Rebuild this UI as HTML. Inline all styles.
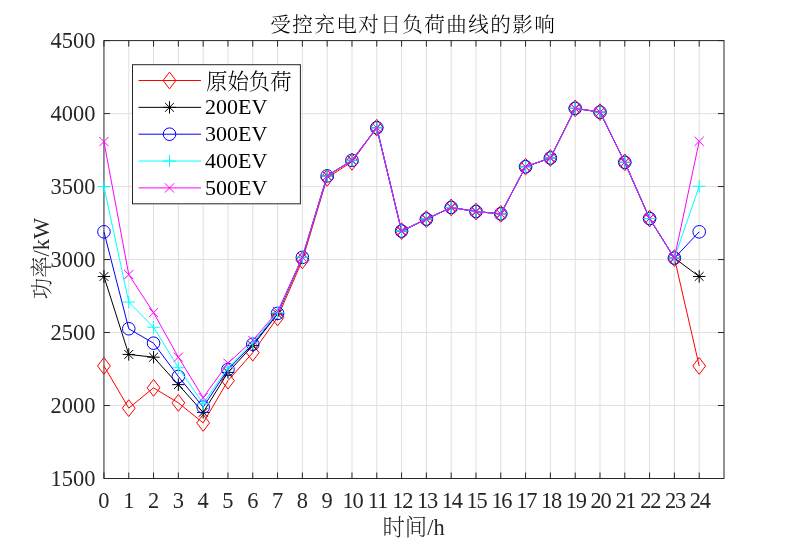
<!DOCTYPE html>
<html lang="zh"><head><meta charset="utf-8"><title>受控充电对日负荷曲线的影响</title>
<style>html,body{margin:0;padding:0;background:#fff}svg{display:block}text{filter:grayscale(1)}</style></head>
<body>
<svg width="800" height="541" viewBox="0 0 800 541">
<rect x="0" y="0" width="800" height="541" fill="#fff"/>
<path d="M128.75 40.6V478.5M153.55 40.6V478.5M178.36 40.6V478.5M203.16 40.6V478.5M227.96 40.6V478.5M252.76 40.6V478.5M277.56 40.6V478.5M302.37 40.6V478.5M327.17 40.6V478.5M351.97 40.6V478.5M376.77 40.6V478.5M401.57 40.6V478.5M426.38 40.6V478.5M451.18 40.6V478.5M475.98 40.6V478.5M500.78 40.6V478.5M525.58 40.6V478.5M550.39 40.6V478.5M575.19 40.6V478.5M599.99 40.6V478.5M624.79 40.6V478.5M649.59 40.6V478.5M674.4 40.6V478.5M699.2 40.6V478.5M103.95 405.52H724.0M103.95 332.53H724.0M103.95 259.55H724.0M103.95 186.57H724.0M103.95 113.58H724.0" stroke="#e0e0e0" stroke-width="1" fill="none"/>
<path d="M103.95 478.5v-6.0M103.95 40.6v6.0M128.75 478.5v-6.0M128.75 40.6v6.0M153.55 478.5v-6.0M153.55 40.6v6.0M178.36 478.5v-6.0M178.36 40.6v6.0M203.16 478.5v-6.0M203.16 40.6v6.0M227.96 478.5v-6.0M227.96 40.6v6.0M252.76 478.5v-6.0M252.76 40.6v6.0M277.56 478.5v-6.0M277.56 40.6v6.0M302.37 478.5v-6.0M302.37 40.6v6.0M327.17 478.5v-6.0M327.17 40.6v6.0M351.97 478.5v-6.0M351.97 40.6v6.0M376.77 478.5v-6.0M376.77 40.6v6.0M401.57 478.5v-6.0M401.57 40.6v6.0M426.38 478.5v-6.0M426.38 40.6v6.0M451.18 478.5v-6.0M451.18 40.6v6.0M475.98 478.5v-6.0M475.98 40.6v6.0M500.78 478.5v-6.0M500.78 40.6v6.0M525.58 478.5v-6.0M525.58 40.6v6.0M550.39 478.5v-6.0M550.39 40.6v6.0M575.19 478.5v-6.0M575.19 40.6v6.0M599.99 478.5v-6.0M599.99 40.6v6.0M624.79 478.5v-6.0M624.79 40.6v6.0M649.59 478.5v-6.0M649.59 40.6v6.0M674.4 478.5v-6.0M674.4 40.6v6.0M699.2 478.5v-6.0M699.2 40.6v6.0M103.95 478.5h6.0M724.0 478.5h-6.0M103.95 405.52h6.0M724.0 405.52h-6.0M103.95 332.53h6.0M724.0 332.53h-6.0M103.95 259.55h6.0M724.0 259.55h-6.0M103.95 186.57h6.0M724.0 186.57h-6.0M103.95 113.58h6.0M724.0 113.58h-6.0M103.95 40.6h6.0M724.0 40.6h-6.0" stroke="#262626" stroke-width="1" fill="none"/>
<rect x="103.95" y="40.6" width="620.05" height="437.9" fill="none" stroke="#262626" stroke-width="1"/>
<polyline fill="none" stroke="#ff0000" stroke-width="1" points="103.95,365.96 128.75,408.14 153.55,387.85 178.36,402.89 203.16,422.89 227.96,380.70 252.76,352.68 277.56,317.50 302.37,260.28 327.17,177.81 351.97,161.75 376.77,127.74 401.57,231.09 426.38,219.12 451.18,207.44 475.98,211.53 500.78,213.86 525.58,166.72 550.39,157.96 575.19,108.33 599.99,112.12 624.79,162.34 649.59,218.53 674.40,258.09 699.20,365.96"/>
<path d="M103.95 357.56L110.35 365.96L103.95 374.36L97.55 365.96Z" fill="none" stroke="#ff0000" stroke-width="1"/>
<path d="M128.75 399.74L135.15 408.14L128.75 416.54L122.35 408.14Z" fill="none" stroke="#ff0000" stroke-width="1"/>
<path d="M153.55 379.45L159.95 387.85L153.55 396.25L147.15 387.85Z" fill="none" stroke="#ff0000" stroke-width="1"/>
<path d="M178.36 394.49L184.76 402.89L178.36 411.29L171.96 402.89Z" fill="none" stroke="#ff0000" stroke-width="1"/>
<path d="M203.16 414.49L209.56 422.89L203.16 431.29L196.76 422.89Z" fill="none" stroke="#ff0000" stroke-width="1"/>
<path d="M227.96 372.30L234.36 380.70L227.96 389.10L221.56 380.70Z" fill="none" stroke="#ff0000" stroke-width="1"/>
<path d="M252.76 344.28L259.16 352.68L252.76 361.08L246.36 352.68Z" fill="none" stroke="#ff0000" stroke-width="1"/>
<path d="M277.56 309.10L283.96 317.50L277.56 325.90L271.16 317.50Z" fill="none" stroke="#ff0000" stroke-width="1"/>
<path d="M302.37 251.88L308.77 260.28L302.37 268.68L295.97 260.28Z" fill="none" stroke="#ff0000" stroke-width="1"/>
<path d="M327.17 169.41L333.57 177.81L327.17 186.21L320.77 177.81Z" fill="none" stroke="#ff0000" stroke-width="1"/>
<path d="M351.97 153.35L358.37 161.75L351.97 170.15L345.57 161.75Z" fill="none" stroke="#ff0000" stroke-width="1"/>
<path d="M376.77 119.34L383.17 127.74L376.77 136.14L370.37 127.74Z" fill="none" stroke="#ff0000" stroke-width="1"/>
<path d="M401.57 222.69L407.97 231.09L401.57 239.49L395.17 231.09Z" fill="none" stroke="#ff0000" stroke-width="1"/>
<path d="M426.38 210.72L432.78 219.12L426.38 227.52L419.98 219.12Z" fill="none" stroke="#ff0000" stroke-width="1"/>
<path d="M451.18 199.04L457.58 207.44L451.18 215.84L444.78 207.44Z" fill="none" stroke="#ff0000" stroke-width="1"/>
<path d="M475.98 203.13L482.38 211.53L475.98 219.93L469.58 211.53Z" fill="none" stroke="#ff0000" stroke-width="1"/>
<path d="M500.78 205.46L507.18 213.86L500.78 222.26L494.38 213.86Z" fill="none" stroke="#ff0000" stroke-width="1"/>
<path d="M525.58 158.32L531.98 166.72L525.58 175.12L519.18 166.72Z" fill="none" stroke="#ff0000" stroke-width="1"/>
<path d="M550.39 149.56L556.79 157.96L550.39 166.36L543.99 157.96Z" fill="none" stroke="#ff0000" stroke-width="1"/>
<path d="M575.19 99.93L581.59 108.33L575.19 116.73L568.79 108.33Z" fill="none" stroke="#ff0000" stroke-width="1"/>
<path d="M599.99 103.72L606.39 112.12L599.99 120.52L593.59 112.12Z" fill="none" stroke="#ff0000" stroke-width="1"/>
<path d="M624.79 153.94L631.19 162.34L624.79 170.74L618.39 162.34Z" fill="none" stroke="#ff0000" stroke-width="1"/>
<path d="M649.59 210.13L655.99 218.53L649.59 226.93L643.19 218.53Z" fill="none" stroke="#ff0000" stroke-width="1"/>
<path d="M674.40 249.69L680.80 258.09L674.40 266.49L668.00 258.09Z" fill="none" stroke="#ff0000" stroke-width="1"/>
<path d="M699.20 357.56L705.60 365.96L699.20 374.36L692.80 365.96Z" fill="none" stroke="#ff0000" stroke-width="1"/>
<polyline fill="none" stroke="#000000" stroke-width="1" points="103.95,276.48 128.75,354.43 153.55,357.20 178.36,384.64 203.16,412.38 227.96,372.38 252.76,345.67 277.56,314.00 302.37,257.36 327.17,175.91 351.97,160.29 376.77,127.74 401.57,231.09 426.38,219.12 451.18,207.44 475.98,211.53 500.78,213.86 525.58,166.72 550.39,157.96 575.19,108.33 599.99,112.12 624.79,162.34 649.59,218.53 674.40,258.09 699.20,276.48"/>
<path d="M97.75 276.48H110.15M103.95 270.28V282.68M99.57 272.10L108.33 280.87M99.57 280.87L108.33 272.10" fill="none" stroke="#000000" stroke-width="1"/>
<path d="M122.55 354.43H134.95M128.75 348.23V360.63M124.37 350.04L133.14 358.81M124.37 358.81L133.14 350.04" fill="none" stroke="#000000" stroke-width="1"/>
<path d="M147.35 357.20H159.75M153.55 351.00V363.40M149.17 352.82L157.94 361.59M149.17 361.59L157.94 352.82" fill="none" stroke="#000000" stroke-width="1"/>
<path d="M172.16 384.64H184.56M178.36 378.44V390.84M173.97 380.26L182.74 389.03M173.97 389.03L182.74 380.26" fill="none" stroke="#000000" stroke-width="1"/>
<path d="M196.96 412.38H209.36M203.16 406.18V418.58M198.77 407.99L207.54 416.76M198.77 416.76L207.54 407.99" fill="none" stroke="#000000" stroke-width="1"/>
<path d="M221.76 372.38H234.16M227.96 366.18V378.58M223.58 368.00L232.34 376.77M223.58 376.77L232.34 368.00" fill="none" stroke="#000000" stroke-width="1"/>
<path d="M246.56 345.67H258.96M252.76 339.47V351.87M248.38 341.29L257.15 350.05M248.38 350.05L257.15 341.29" fill="none" stroke="#000000" stroke-width="1"/>
<path d="M271.36 314.00H283.76M277.56 307.80V320.20M273.18 309.61L281.95 318.38M273.18 318.38L281.95 309.61" fill="none" stroke="#000000" stroke-width="1"/>
<path d="M296.17 257.36H308.57M302.37 251.16V263.56M297.98 252.98L306.75 261.74M297.98 261.74L306.75 252.98" fill="none" stroke="#000000" stroke-width="1"/>
<path d="M320.97 175.91H333.37M327.17 169.71V182.11M322.78 171.53L331.55 180.30M322.78 180.30L331.55 171.53" fill="none" stroke="#000000" stroke-width="1"/>
<path d="M345.77 160.29H358.17M351.97 154.09V166.49M347.59 155.91L356.35 164.68M347.59 164.68L356.35 155.91" fill="none" stroke="#000000" stroke-width="1"/>
<path d="M370.57 127.74H382.97M376.77 121.54V133.94M372.39 123.36L381.16 132.13M372.39 132.13L381.16 123.36" fill="none" stroke="#000000" stroke-width="1"/>
<path d="M395.37 231.09H407.77M401.57 224.89V237.29M397.19 226.70L405.96 235.47M397.19 235.47L405.96 226.70" fill="none" stroke="#000000" stroke-width="1"/>
<path d="M420.18 219.12H432.58M426.38 212.92V225.32M421.99 214.73L430.76 223.50M421.99 223.50L430.76 214.73" fill="none" stroke="#000000" stroke-width="1"/>
<path d="M444.98 207.44H457.38M451.18 201.24V213.64M446.79 203.06L455.56 211.82M446.79 211.82L455.56 203.06" fill="none" stroke="#000000" stroke-width="1"/>
<path d="M469.78 211.53H482.18M475.98 205.33V217.73M471.60 207.14L480.36 215.91M471.60 215.91L480.36 207.14" fill="none" stroke="#000000" stroke-width="1"/>
<path d="M494.58 213.86H506.98M500.78 207.66V220.06M496.40 209.48L505.17 218.25M496.40 218.25L505.17 209.48" fill="none" stroke="#000000" stroke-width="1"/>
<path d="M519.38 166.72H531.78M525.58 160.52V172.92M521.20 162.33L529.97 171.10M521.20 171.10L529.97 162.33" fill="none" stroke="#000000" stroke-width="1"/>
<path d="M544.19 157.96H556.59M550.39 151.76V164.16M546.00 153.57L554.77 162.34M546.00 162.34L554.77 153.57" fill="none" stroke="#000000" stroke-width="1"/>
<path d="M568.99 108.33H581.39M575.19 102.13V114.53M570.80 103.94L579.57 112.71M570.80 112.71L579.57 103.94" fill="none" stroke="#000000" stroke-width="1"/>
<path d="M593.79 112.12H606.19M599.99 105.92V118.32M595.61 107.74L604.37 116.51M595.61 116.51L604.37 107.74" fill="none" stroke="#000000" stroke-width="1"/>
<path d="M618.59 162.34H630.99M624.79 156.14V168.54M620.41 157.95L629.18 166.72M620.41 166.72L629.18 157.95" fill="none" stroke="#000000" stroke-width="1"/>
<path d="M643.39 218.53H655.79M649.59 212.33V224.73M645.21 214.15L653.98 222.92M645.21 222.92L653.98 214.15" fill="none" stroke="#000000" stroke-width="1"/>
<path d="M668.20 258.09H680.60M674.40 251.89V264.29M670.01 253.71L678.78 262.47M670.01 262.47L678.78 253.71" fill="none" stroke="#000000" stroke-width="1"/>
<path d="M693.00 276.48H705.40M699.20 270.28V282.68M694.81 272.10L703.58 280.87M694.81 280.87L703.58 272.10" fill="none" stroke="#000000" stroke-width="1"/>
<polyline fill="none" stroke="#0000ff" stroke-width="1" points="103.95,231.82 128.75,328.74 153.55,343.19 178.36,376.47 203.16,407.12 227.96,369.46 252.76,344.21 277.56,313.41 302.37,257.36 327.17,175.91 351.97,160.29 376.77,127.74 401.57,231.09 426.38,219.12 451.18,207.44 475.98,211.53 500.78,213.86 525.58,166.72 550.39,157.96 575.19,108.33 599.99,112.12 624.79,162.34 649.59,218.53 674.40,258.09 699.20,231.82"/>
<circle cx="103.95" cy="231.82" r="6.3" fill="none" stroke="#0000ff" stroke-width="1"/>
<circle cx="128.75" cy="328.74" r="6.3" fill="none" stroke="#0000ff" stroke-width="1"/>
<circle cx="153.55" cy="343.19" r="6.3" fill="none" stroke="#0000ff" stroke-width="1"/>
<circle cx="178.36" cy="376.47" r="6.3" fill="none" stroke="#0000ff" stroke-width="1"/>
<circle cx="203.16" cy="407.12" r="6.3" fill="none" stroke="#0000ff" stroke-width="1"/>
<circle cx="227.96" cy="369.46" r="6.3" fill="none" stroke="#0000ff" stroke-width="1"/>
<circle cx="252.76" cy="344.21" r="6.3" fill="none" stroke="#0000ff" stroke-width="1"/>
<circle cx="277.56" cy="313.41" r="6.3" fill="none" stroke="#0000ff" stroke-width="1"/>
<circle cx="302.37" cy="257.36" r="6.3" fill="none" stroke="#0000ff" stroke-width="1"/>
<circle cx="327.17" cy="175.91" r="6.3" fill="none" stroke="#0000ff" stroke-width="1"/>
<circle cx="351.97" cy="160.29" r="6.3" fill="none" stroke="#0000ff" stroke-width="1"/>
<circle cx="376.77" cy="127.74" r="6.3" fill="none" stroke="#0000ff" stroke-width="1"/>
<circle cx="401.57" cy="231.09" r="6.3" fill="none" stroke="#0000ff" stroke-width="1"/>
<circle cx="426.38" cy="219.12" r="6.3" fill="none" stroke="#0000ff" stroke-width="1"/>
<circle cx="451.18" cy="207.44" r="6.3" fill="none" stroke="#0000ff" stroke-width="1"/>
<circle cx="475.98" cy="211.53" r="6.3" fill="none" stroke="#0000ff" stroke-width="1"/>
<circle cx="500.78" cy="213.86" r="6.3" fill="none" stroke="#0000ff" stroke-width="1"/>
<circle cx="525.58" cy="166.72" r="6.3" fill="none" stroke="#0000ff" stroke-width="1"/>
<circle cx="550.39" cy="157.96" r="6.3" fill="none" stroke="#0000ff" stroke-width="1"/>
<circle cx="575.19" cy="108.33" r="6.3" fill="none" stroke="#0000ff" stroke-width="1"/>
<circle cx="599.99" cy="112.12" r="6.3" fill="none" stroke="#0000ff" stroke-width="1"/>
<circle cx="624.79" cy="162.34" r="6.3" fill="none" stroke="#0000ff" stroke-width="1"/>
<circle cx="649.59" cy="218.53" r="6.3" fill="none" stroke="#0000ff" stroke-width="1"/>
<circle cx="674.40" cy="258.09" r="6.3" fill="none" stroke="#0000ff" stroke-width="1"/>
<circle cx="699.20" cy="231.82" r="6.3" fill="none" stroke="#0000ff" stroke-width="1"/>
<polyline fill="none" stroke="#00ffff" stroke-width="1" points="103.95,186.57 128.75,302.03 153.55,327.28 178.36,367.71 203.16,403.62 227.96,367.71 252.76,342.75 277.56,312.68 302.37,257.36 327.17,175.91 351.97,160.29 376.77,127.74 401.57,231.09 426.38,219.12 451.18,207.44 475.98,211.53 500.78,213.86 525.58,166.72 550.39,157.96 575.19,108.33 599.99,112.12 624.79,162.34 649.59,218.53 674.40,258.09 699.20,186.27"/>
<path d="M97.75 186.57H110.15M103.95 180.37V192.77" fill="none" stroke="#00ffff" stroke-width="1"/>
<path d="M122.55 302.03H134.95M128.75 295.83V308.23" fill="none" stroke="#00ffff" stroke-width="1"/>
<path d="M147.35 327.28H159.75M153.55 321.08V333.48" fill="none" stroke="#00ffff" stroke-width="1"/>
<path d="M172.16 367.71H184.56M178.36 361.51V373.91" fill="none" stroke="#00ffff" stroke-width="1"/>
<path d="M196.96 403.62H209.36M203.16 397.42V409.82" fill="none" stroke="#00ffff" stroke-width="1"/>
<path d="M221.76 367.71H234.16M227.96 361.51V373.91" fill="none" stroke="#00ffff" stroke-width="1"/>
<path d="M246.56 342.75H258.96M252.76 336.55V348.95" fill="none" stroke="#00ffff" stroke-width="1"/>
<path d="M271.36 312.68H283.76M277.56 306.48V318.88" fill="none" stroke="#00ffff" stroke-width="1"/>
<path d="M296.17 257.36H308.57M302.37 251.16V263.56" fill="none" stroke="#00ffff" stroke-width="1"/>
<path d="M320.97 175.91H333.37M327.17 169.71V182.11" fill="none" stroke="#00ffff" stroke-width="1"/>
<path d="M345.77 160.29H358.17M351.97 154.09V166.49" fill="none" stroke="#00ffff" stroke-width="1"/>
<path d="M370.57 127.74H382.97M376.77 121.54V133.94" fill="none" stroke="#00ffff" stroke-width="1"/>
<path d="M395.37 231.09H407.77M401.57 224.89V237.29" fill="none" stroke="#00ffff" stroke-width="1"/>
<path d="M420.18 219.12H432.58M426.38 212.92V225.32" fill="none" stroke="#00ffff" stroke-width="1"/>
<path d="M444.98 207.44H457.38M451.18 201.24V213.64" fill="none" stroke="#00ffff" stroke-width="1"/>
<path d="M469.78 211.53H482.18M475.98 205.33V217.73" fill="none" stroke="#00ffff" stroke-width="1"/>
<path d="M494.58 213.86H506.98M500.78 207.66V220.06" fill="none" stroke="#00ffff" stroke-width="1"/>
<path d="M519.38 166.72H531.78M525.58 160.52V172.92" fill="none" stroke="#00ffff" stroke-width="1"/>
<path d="M544.19 157.96H556.59M550.39 151.76V164.16" fill="none" stroke="#00ffff" stroke-width="1"/>
<path d="M568.99 108.33H581.39M575.19 102.13V114.53" fill="none" stroke="#00ffff" stroke-width="1"/>
<path d="M593.79 112.12H606.19M599.99 105.92V118.32" fill="none" stroke="#00ffff" stroke-width="1"/>
<path d="M618.59 162.34H630.99M624.79 156.14V168.54" fill="none" stroke="#00ffff" stroke-width="1"/>
<path d="M643.39 218.53H655.79M649.59 212.33V224.73" fill="none" stroke="#00ffff" stroke-width="1"/>
<path d="M668.20 258.09H680.60M674.40 251.89V264.29" fill="none" stroke="#00ffff" stroke-width="1"/>
<path d="M693.00 186.27H705.40M699.20 180.07V192.47" fill="none" stroke="#00ffff" stroke-width="1"/>
<polyline fill="none" stroke="#ff00ff" stroke-width="1" points="103.95,141.61 128.75,274.58 153.55,312.68 178.36,357.20 203.16,397.63 227.96,363.19 252.76,340.42 277.56,311.51 302.37,257.36 327.17,175.91 351.97,160.29 376.77,127.74 401.57,231.09 426.38,219.12 451.18,207.44 475.98,211.53 500.78,213.86 525.58,166.72 550.39,157.96 575.19,108.33 599.99,112.12 624.79,162.34 649.59,218.53 674.40,258.09 699.20,141.32"/>
<path d="M99.35 137.01L108.55 146.21M99.35 146.21L108.55 137.01" fill="none" stroke="#ff00ff" stroke-width="1"/>
<path d="M124.15 269.98L133.35 279.18M124.15 279.18L133.35 269.98" fill="none" stroke="#ff00ff" stroke-width="1"/>
<path d="M148.95 308.08L158.15 317.28M148.95 317.28L158.15 308.08" fill="none" stroke="#ff00ff" stroke-width="1"/>
<path d="M173.76 352.60L182.96 361.80M173.76 361.80L182.96 352.60" fill="none" stroke="#ff00ff" stroke-width="1"/>
<path d="M198.56 393.03L207.76 402.23M198.56 402.23L207.76 393.03" fill="none" stroke="#ff00ff" stroke-width="1"/>
<path d="M223.36 358.59L232.56 367.79M223.36 367.79L232.56 358.59" fill="none" stroke="#ff00ff" stroke-width="1"/>
<path d="M248.16 335.82L257.36 345.02M248.16 345.02L257.36 335.82" fill="none" stroke="#ff00ff" stroke-width="1"/>
<path d="M272.96 306.91L282.16 316.11M272.96 316.11L282.16 306.91" fill="none" stroke="#ff00ff" stroke-width="1"/>
<path d="M297.77 252.76L306.97 261.96M297.77 261.96L306.97 252.76" fill="none" stroke="#ff00ff" stroke-width="1"/>
<path d="M322.57 171.31L331.77 180.51M322.57 180.51L331.77 171.31" fill="none" stroke="#ff00ff" stroke-width="1"/>
<path d="M347.37 155.69L356.57 164.89M347.37 164.89L356.57 155.69" fill="none" stroke="#ff00ff" stroke-width="1"/>
<path d="M372.17 123.14L381.37 132.34M372.17 132.34L381.37 123.14" fill="none" stroke="#ff00ff" stroke-width="1"/>
<path d="M396.97 226.49L406.17 235.69M396.97 235.69L406.17 226.49" fill="none" stroke="#ff00ff" stroke-width="1"/>
<path d="M421.78 214.52L430.98 223.72M421.78 223.72L430.98 214.52" fill="none" stroke="#ff00ff" stroke-width="1"/>
<path d="M446.58 202.84L455.78 212.04M446.58 212.04L455.78 202.84" fill="none" stroke="#ff00ff" stroke-width="1"/>
<path d="M471.38 206.93L480.58 216.13M471.38 216.13L480.58 206.93" fill="none" stroke="#ff00ff" stroke-width="1"/>
<path d="M496.18 209.26L505.38 218.46M496.18 218.46L505.38 209.26" fill="none" stroke="#ff00ff" stroke-width="1"/>
<path d="M520.98 162.12L530.18 171.32M520.98 171.32L530.18 162.12" fill="none" stroke="#ff00ff" stroke-width="1"/>
<path d="M545.79 153.36L554.99 162.56M545.79 162.56L554.99 153.36" fill="none" stroke="#ff00ff" stroke-width="1"/>
<path d="M570.59 103.73L579.79 112.93M570.59 112.93L579.79 103.73" fill="none" stroke="#ff00ff" stroke-width="1"/>
<path d="M595.39 107.52L604.59 116.72M595.39 116.72L604.59 107.52" fill="none" stroke="#ff00ff" stroke-width="1"/>
<path d="M620.19 157.74L629.39 166.94M620.19 166.94L629.39 157.74" fill="none" stroke="#ff00ff" stroke-width="1"/>
<path d="M644.99 213.93L654.19 223.13M644.99 223.13L654.19 213.93" fill="none" stroke="#ff00ff" stroke-width="1"/>
<path d="M669.80 253.49L679.00 262.69M669.80 262.69L679.00 253.49" fill="none" stroke="#ff00ff" stroke-width="1"/>
<path d="M694.60 136.72L703.80 145.92M694.60 145.92L703.80 136.72" fill="none" stroke="#ff00ff" stroke-width="1"/>
<g style="font-family:'Liberation Serif','Noto Serif CJK SC',serif;font-size:22.4px;fill:#262626">
<text x="103.95" y="507.6" text-anchor="middle">0</text>
<text x="128.75" y="507.6" text-anchor="middle">1</text>
<text x="153.55" y="507.6" text-anchor="middle">2</text>
<text x="178.36" y="507.6" text-anchor="middle">3</text>
<text x="203.16" y="507.6" text-anchor="middle">4</text>
<text x="227.96" y="507.6" text-anchor="middle">5</text>
<text x="252.76" y="507.6" text-anchor="middle">6</text>
<text x="277.56" y="507.6" text-anchor="middle">7</text>
<text x="302.37" y="507.6" text-anchor="middle">8</text>
<text x="327.17" y="507.6" text-anchor="middle">9</text>
<text x="352.57" y="507.6" text-anchor="middle" style="letter-spacing:-1.2px">10</text>
<text x="377.37" y="507.6" text-anchor="middle" style="letter-spacing:-1.2px">11</text>
<text x="402.17" y="507.6" text-anchor="middle" style="letter-spacing:-1.2px">12</text>
<text x="426.98" y="507.6" text-anchor="middle" style="letter-spacing:-1.2px">13</text>
<text x="451.78" y="507.6" text-anchor="middle" style="letter-spacing:-1.2px">14</text>
<text x="476.58" y="507.6" text-anchor="middle" style="letter-spacing:-1.2px">15</text>
<text x="501.38" y="507.6" text-anchor="middle" style="letter-spacing:-1.2px">16</text>
<text x="526.18" y="507.6" text-anchor="middle" style="letter-spacing:-1.2px">17</text>
<text x="550.99" y="507.6" text-anchor="middle" style="letter-spacing:-1.2px">18</text>
<text x="575.79" y="507.6" text-anchor="middle" style="letter-spacing:-1.2px">19</text>
<text x="600.59" y="507.6" text-anchor="middle" style="letter-spacing:-1.2px">20</text>
<text x="625.39" y="507.6" text-anchor="middle" style="letter-spacing:-1.2px">21</text>
<text x="650.19" y="507.6" text-anchor="middle" style="letter-spacing:-1.2px">22</text>
<text x="675.00" y="507.6" text-anchor="middle" style="letter-spacing:-1.2px">23</text>
<text x="699.80" y="507.6" text-anchor="middle" style="letter-spacing:-1.2px">24</text>
<text x="95.4" y="485.70" text-anchor="end">1500</text>
<text x="95.4" y="412.72" text-anchor="end">2000</text>
<text x="95.4" y="339.73" text-anchor="end">2500</text>
<text x="95.4" y="266.75" text-anchor="end">3000</text>
<text x="95.4" y="193.77" text-anchor="end">3500</text>
<text x="95.4" y="120.78" text-anchor="end">4000</text>
<text x="95.4" y="47.80" text-anchor="end">4500</text>
</g>
<text x="413.5" y="535" text-anchor="middle" style="font-family:'Liberation Serif','Noto Serif CJK SC',serif;font-size:22.4px;fill:#262626"><tspan style="font-weight:300;font-size:22.4px">时间</tspan>/h</text>
<text transform="translate(49,258.5) rotate(-90)" text-anchor="middle" style="font-family:'Liberation Serif','Noto Serif CJK SC',serif;font-size:22.4px;fill:#262626"><tspan style="font-weight:300;font-size:21.4px">功率</tspan>/kW</text>
<text x="413.2" y="32.3" text-anchor="middle" style="font-family:'Liberation Serif','Noto Serif CJK SC',serif;font-size:20.6px;letter-spacing:1.4px;fill:#000"><tspan style="font-weight:300">受控充电对日负荷曲线的影响</tspan></text>
<rect x="132.5" y="64.7" width="167.89999999999998" height="139.10000000000002" fill="#fff" stroke="#262626" stroke-width="1"/>
<path d="M138.5 80.50H201" stroke="#ff0000" stroke-width="1" fill="none"/>
<path d="M169.50 72.10L175.90 80.50L169.50 88.90L163.10 80.50Z" fill="none" stroke="#ff0000" stroke-width="1"/>
<text x="206" y="88.90" style="font-family:'Liberation Serif','Noto Serif CJK SC',serif;font-size:22px;fill:#000"><tspan style="font-weight:300;font-size:21.4px">原始负荷</tspan></text>
<path d="M138.5 107.35H201" stroke="#000000" stroke-width="1" fill="none"/>
<path d="M163.30 107.35H175.70M169.50 101.15V113.55M165.12 102.97L173.88 111.73M165.12 111.73L173.88 102.97" fill="none" stroke="#000000" stroke-width="1"/>
<text x="205" y="114.35" style="font-family:'Liberation Serif','Noto Serif CJK SC',serif;font-size:22px;fill:#000">200EV</text>
<path d="M138.5 134.20H201" stroke="#0000ff" stroke-width="1" fill="none"/>
<circle cx="169.50" cy="134.20" r="6.3" fill="none" stroke="#0000ff" stroke-width="1"/>
<text x="205" y="141.20" style="font-family:'Liberation Serif','Noto Serif CJK SC',serif;font-size:22px;fill:#000">300EV</text>
<path d="M138.5 161.05H201" stroke="#00ffff" stroke-width="1" fill="none"/>
<path d="M163.30 161.05H175.70M169.50 154.85V167.25" fill="none" stroke="#00ffff" stroke-width="1"/>
<text x="205" y="168.05" style="font-family:'Liberation Serif','Noto Serif CJK SC',serif;font-size:22px;fill:#000">400EV</text>
<path d="M138.5 187.90H201" stroke="#ff00ff" stroke-width="1" fill="none"/>
<path d="M164.90 183.30L174.10 192.50M164.90 192.50L174.10 183.30" fill="none" stroke="#ff00ff" stroke-width="1"/>
<text x="205" y="194.90" style="font-family:'Liberation Serif','Noto Serif CJK SC',serif;font-size:22px;fill:#000">500EV</text>
</svg>
</body></html>
